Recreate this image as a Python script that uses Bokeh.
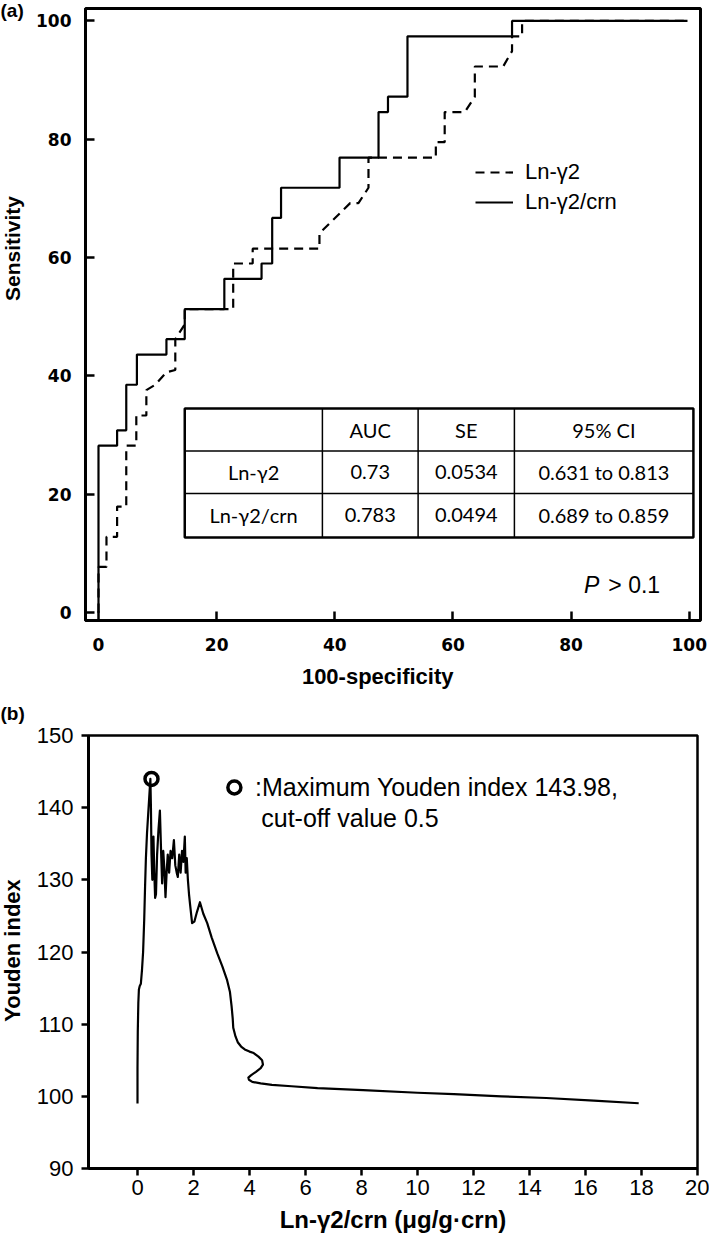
import math
from bokeh.plotting import figure
from bokeh.layouts import column, row
from bokeh.models import Legend, LegendItem, Range1d, FixedTicker, Label
from bokeh.embed import file_html
from bokeh.resources import INLINE

# ---------------- Data: panel (a) ROC curves ----------------
roc_crn_x = [0, 0, 3.15, 3.15, 4.7, 4.7, 6.5, 6.5, 11.5, 11.5, 14.6, 14.6, 21.3, 21.3, 27.6, 27.6,
             29.4, 29.4, 30.9, 30.9, 40.8, 40.8, 47.4, 47.4, 49.0, 49.0, 52.3, 52.3, 70.0, 70.0, 99.7]
roc_crn_y = [0, 28.2, 28.2, 30.8, 30.8, 38.5, 38.5, 43.6, 43.6, 46.2, 46.2, 51.3, 51.3, 56.4, 56.4, 59.0,
             59.0, 66.7, 66.7, 71.8, 71.8, 76.9, 76.9, 84.6, 84.6, 87.2, 87.2, 97.4, 97.4, 100, 100]

roc_ln_x = [0, 0, 1.35, 1.35, 3.15, 3.15, 4.7, 4.7, 6.4, 6.4, 8.1, 8.1, 9.6, 11.5, 13.0, 13.0, 14.6, 14.6,
            22.8, 22.8, 26.1, 26.1, 37.4, 37.4, 42.6, 44.0, 45.7, 45.7, 57.1, 57.1, 58.6, 58.6, 62.0,
            63.7, 63.7, 68.5, 70.0, 70.0, 71.7, 71.7, 99.7]
roc_ln_y = [0, 7.7, 7.7, 12.8, 12.8, 17.9, 17.9, 28.2, 28.2, 33.3, 33.3, 37.6, 38.5, 40.6, 41.0, 46.2, 48.7, 51.3,
            51.3, 59.0, 59.0, 61.5, 61.5, 64.1, 69.2, 69.2, 71.8, 76.9, 76.9, 79.5, 79.5, 84.6, 84.6,
            87.2, 92.3, 92.3, 94.9, 97.4, 97.4, 100, 100]

series_labels = ["Ln-γ2", "Ln-γ2/crn"]
roc_ticks = [0, 20, 40, 60, 80, 100]

table_header = ["", "AUC", "SE", "95% CI"]
table_row1 = ["Ln-γ2", "0.73", "0.0534", "0.631 to 0.813"]
table_row2 = ["Ln-γ2/crn", "0.783", "0.0494", "0.689 to 0.859"]
p_text = "P"
p_value_text = "> 0.1"

# ---------------- Data: panel (b) Youden index ----------------
youden_x = [0.00, 0.00, 0.01, 0.03, 0.05, 0.08, 0.12, 0.16, 0.20, 0.24,
            0.27, 0.30, 0.34, 0.38, 0.42, 0.46, 0.48, 0.50, 0.53, 0.57,
            0.60, 0.63, 0.66, 0.70, 0.75, 0.80, 0.85, 0.88, 0.92, 0.96,
            1.00, 1.04, 1.08, 1.13, 1.18, 1.24, 1.30, 1.35, 1.40, 1.44,
            1.49, 1.54, 1.59, 1.64, 1.69, 1.72, 1.76, 1.80, 1.84, 1.88,
            1.95, 2.03, 2.12, 2.23, 2.35, 2.49, 2.65, 2.85, 3.03, 3.20,
            3.30, 3.36, 3.40, 3.42, 3.50, 3.58, 3.70, 3.83, 4.00, 4.15,
            4.32, 4.45, 4.48, 4.40, 4.23, 4.05, 3.96, 3.98, 4.10, 4.40,
            4.80, 5.50, 6.43, 8.06, 10.0, 11.3, 13.0, 14.6, 16.3, 17.9]
youden_y = [99.0, 104.0, 109.0, 113.0, 114.8, 115.3, 115.6, 117.5, 120.0, 124.5,
            129.0, 133.0, 136.5, 139.0, 141.5, 144.0, 140.0, 133.5, 130.0, 136.0,
            131.0, 127.5, 128.0, 133.5, 137.0, 139.6, 133.0, 129.5, 134.0, 131.5,
            127.6, 131.0, 133.5, 131.0, 134.0, 133.0, 135.5, 132.0, 131.0, 130.4,
            133.5, 131.0, 134.0, 132.5, 136.0, 131.0, 133.0, 130.0, 128.0, 126.5,
            124.0, 124.2, 125.5, 126.9, 125.3, 124.0, 122.0, 119.8, 118.0, 116.1,
            114.5, 112.5, 110.8, 109.5, 108.3, 107.5, 106.9, 106.5, 106.2, 106.0,
            105.5, 105.0, 104.4, 103.9, 103.4, 102.9, 102.6, 102.3, 102.0, 101.8,
            101.6, 101.4, 101.15, 100.87, 100.5, 100.3, 100.0, 99.77, 99.4, 99.04]
max_youden_x = [0.5]
max_youden_y = [143.98]
youden_note1 = ":Maximum Youden index 143.98,"
youden_note2 = "cut-off value 0.5"
youden_xticks = [0, 2, 4, 6, 8, 10, 12, 14, 16, 18, 20]
youden_yticks = [90, 100, 110, 120, 130, 140, 150]

SANS = "Liberation Sans"
WIDE_BOLD = "DejaVu Sans"
TABLE_FONT = "Lato"
STRIP_W = 32


def side_strip(height, tag, tag_y, title, title_y, title_size):
    """Narrow strip left of a panel holding the panel tag and the rotated y-axis title.
    Its y coordinates are pixels from the strip's top edge."""
    s = figure(width=STRIP_W, height=height, output_backend="svg", toolbar_location=None,
               x_range=Range1d(0, STRIP_W), y_range=Range1d(height, 0),
               x_axis_location=None, y_axis_location=None,
               min_border_left=0, min_border_right=0, min_border_top=0, min_border_bottom=0)
    try:
        s.frame_align = False
    except Exception:
        pass
    s.grid.visible = False
    s.outline_line_color = None
    s.text(x=[0], y=[tag_y], text=[tag], text_align="left", text_baseline="middle",
           text_font={"value": SANS}, text_font_style="bold", text_font_size="19px", text_color="black")
    s.text(x=[12], y=[title_y], text=[title], angle=math.pi / 2, text_align="center",
           text_baseline="middle", text_font={"value": SANS}, text_font_style="bold",
           text_font_size=title_size, text_color="black")
    return s


# ================= Panel (a) =================
p0 = side_strip(695, "(a)", 10, "Sensitivity", 248, "21px")

p1 = figure(width=709 - STRIP_W, height=695, output_backend="svg", toolbar_location=None,
            x_range=Range1d(-2.2, 101.9), y_range=Range1d(-1.35, 102.1),
            min_border_left=53, min_border_right=9, min_border_top=8, min_border_bottom=75)
p1.grid.visible = False
p1.outline_line_color = "black"
p1.outline_line_width = 3

for ax in (p1.xaxis[0], p1.yaxis[0]):
    ax.axis_line_width = 3
    ax.major_tick_in = 9
    ax.major_tick_out = 0
    ax.major_tick_line_width = 2.5
    ax.minor_tick_line_color = None
    ax.major_label_text_font = WIDE_BOLD
    ax.major_label_text_font_style = "bold"
    ax.major_label_text_font_size = "17px"
    ax.major_label_text_color = "black"
    ax.axis_label_text_font = SANS
    ax.axis_label_text_font_style = "bold"
    ax.axis_label_text_font_size = "22px"
    ax.axis_label_text_color = "black"
    ax.ticker = FixedTicker(ticks=roc_ticks)
p1.xaxis.axis_label = "100-specificity" + "\u00a0" * 5
p1.xaxis.major_label_standoff = 17
p1.yaxis.major_label_standoff = 14
p1.xaxis.axis_label_standoff = 10

r_ln = p1.line(roc_ln_x, roc_ln_y, line_color="black", line_width=2.2, line_dash="9 6")
r_crn = p1.line(roc_crn_x, roc_crn_y, line_color="black", line_width=2.2)

leg = Legend(items=[LegendItem(label=series_labels[0], renderers=[r_ln]),
                    LegendItem(label=series_labels[1], renderers=[r_crn])],
             location=(390, 405), orientation="vertical")
leg.border_line_color = None
leg.background_fill_alpha = 0
leg.padding = 0
leg.margin = 0
leg.spacing = 4
leg.glyph_width = 38
leg.glyph_height = 20
leg.label_height = 20
leg.label_standoff = 12
leg.label_text_font = SANS
leg.label_text_font_size = "22px"
leg.label_text_color = "black"
p1.add_layout(leg)

# table
tx = [14.6, 37.9, 54.1, 70.4, 100.7]
ty = [34.5, 27.3, 20.1, 12.7]
p1.quad(left=[tx[0]], right=[tx[-1]], top=[ty[0]], bottom=[ty[-1]],
        fill_color="white", line_color="black", line_width=2.5)
p1.segment(x0=tx[1:-1], y0=[ty[0]] * 3, x1=tx[1:-1], y1=[ty[-1]] * 3, line_color="black", line_width=1.5)
p1.segment(x0=[tx[0]] * 2, y0=ty[1:-1], x1=[tx[-1]] * 2, y1=ty[1:-1], line_color="black", line_width=1.5)
cx = [(tx[i] + tx[i + 1]) / 2 for i in range(4)]
cy = [(ty[i] + ty[i + 1]) / 2 for i in range(3)]
for r, rw in enumerate([table_header, table_row1, table_row2]):
    p1.text(x=cx, y=[cy[r]] * 4, text=rw, text_align="center", text_baseline="middle",
            text_font={"value": TABLE_FONT}, text_font_size="20px", text_color="black")

p1.add_layout(Label(x=82.2, y=4.6, text=p_text, text_font=SANS, text_font_style="italic",
                    text_font_size="23px", text_align="left", text_baseline="alphabetic",
                    text_color="black"))
p1.add_layout(Label(x=86.3, y=4.6, text=p_value_text, text_font=SANS,
                    text_font_size="23px", text_align="left", text_baseline="alphabetic",
                    text_color="black"))

# ================= Panel (b) =================
p0b = side_strip(543, "(b)", 18, "Youden index", 255, "22px")

p2 = figure(width=709 - STRIP_W, height=543, output_backend="svg", toolbar_location=None,
            x_range=Range1d(-1.75, 20), y_range=Range1d(90, 150),
            min_border_left=56, min_border_right=12, min_border_top=40, min_border_bottom=70)
p2.grid.visible = False
p2.outline_line_color = "black"
p2.outline_line_width = 2.5

for ax in (p2.xaxis[0], p2.yaxis[0]):
    ax.axis_line_width = 3
    ax.major_tick_in = 0
    ax.major_tick_out = 7
    ax.major_tick_line_width = 2.5
    ax.minor_tick_line_color = None
    ax.major_label_text_font = SANS
    ax.major_label_text_font_size = "22px"
    ax.major_label_text_color = "black"
    ax.axis_label_text_font = SANS
    ax.axis_label_text_font_style = "bold"
    ax.axis_label_text_font_size = "24px"
    ax.axis_label_text_color = "black"
p2.xaxis.ticker = FixedTicker(ticks=youden_xticks)
p2.yaxis.ticker = FixedTicker(ticks=youden_yticks)
p2.xaxis.axis_label = "Ln-γ2/crn (μg/g·crn)"
p2.xaxis.major_label_standoff = 4
p2.yaxis.major_label_standoff = 8
p2.xaxis.axis_label_standoff = 8

p2.line(youden_x, youden_y, line_color="black", line_width=2.2, line_join="round")
p2.scatter(max_youden_x, max_youden_y, marker="circle", size=13, fill_alpha=0,
           line_color="black", line_width=3.5)
# annotation key (symbol + text)
p2.scatter([3.46], [142.8], marker="circle", size=13, fill_alpha=0, line_color="black", line_width=3.5)
p2.add_layout(Label(x=4.2, y=142.8, text=youden_note1, text_font=SANS, text_font_size="25px",
                    text_align="left", text_baseline="middle", text_color="black"))
p2.add_layout(Label(x=4.42, y=138.5, text=youden_note2, text_font=SANS, text_font_size="25px",
                    text_align="left", text_baseline="middle", text_color="black"))

layout = column(row(p0, p1, spacing=0), row(p0b, p2, spacing=0), spacing=0)
open("out.html", "w").write(file_html(layout, INLINE))
